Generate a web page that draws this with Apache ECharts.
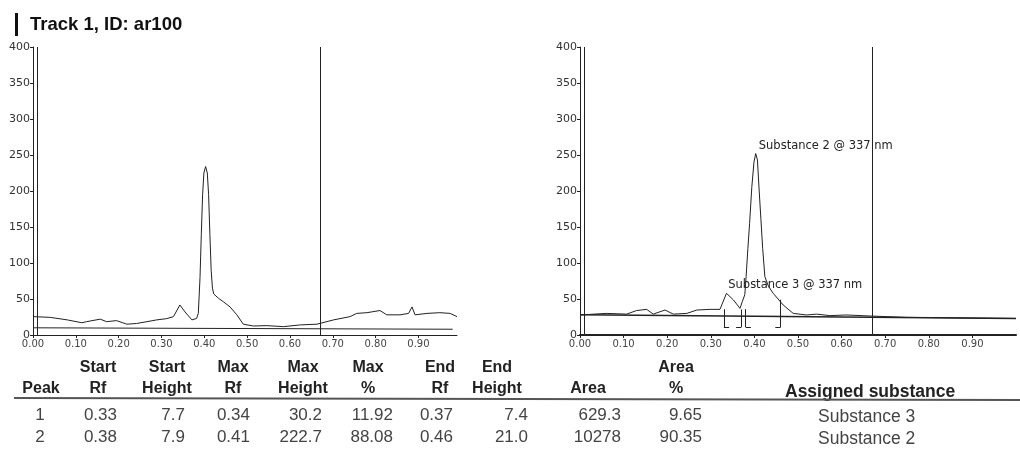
<!DOCTYPE html>
<html>
<head>
<meta charset="utf-8">
<script src="https://cdn.jsdelivr.net/npm/echarts@6/dist/echarts.min.js"></script>
<style>
  html, body { margin: 0; padding: 0; background: #fff; }
  #chart { width: 1020px; height: 450px; }
</style>
</head>
<body>
<div id="chart"></div>
<script>
// densitogram, raw scan (left) -- [Rf, AU]
const rawTrace = [
  [0, 25.5], [0.04, 24.5], [0.08, 21], [0.114, 17], [0.125, 18.5], [0.157, 22], [0.172, 18.5],
  [0.195, 20], [0.219, 15], [0.242, 16], [0.266, 18.5], [0.289, 21], [0.312, 22.7], [0.328, 25.5],
  [0.343, 41.7], [0.355, 32], [0.371, 21], [0.382, 23], [0.386, 30], [0.39, 80], [0.393, 140],
  [0.396, 195], [0.399, 225], [0.403, 234], [0.407, 225], [0.41, 195], [0.413, 140], [0.416, 90],
  [0.419, 65], [0.422, 57], [0.433, 51], [0.445, 46], [0.46, 39], [0.476, 28], [0.491, 15],
  [0.515, 12.5], [0.546, 13], [0.585, 11.6], [0.624, 14], [0.663, 15], [0.702, 21], [0.74, 25.5],
  [0.756, 30], [0.78, 31], [0.81, 34], [0.826, 28], [0.857, 28], [0.877, 30], [0.885, 39],
  [0.892, 28], [0.92, 30], [0.95, 31], [0.974, 30], [0.99, 25.5]
];
const rawBase = [[0, 10], [0.98, 8]];

// densitogram with integrated peaks (right)
const peakTrace = [
  [0, 27.8], [0.06, 30], [0.107, 29], [0.13, 34], [0.153, 35.6], [0.168, 29], [0.195, 34.7],
  [0.214, 29], [0.245, 30], [0.268, 34.7], [0.298, 35.6], [0.321, 35.6], [0.336, 57.9],
  [0.352, 48.6], [0.367, 37], [0.372, 46], [0.378, 56], [0.381, 81], [0.385, 120], [0.389, 155],
  [0.394, 205], [0.399, 240], [0.403, 252], [0.407, 243], [0.411, 200], [0.415, 160], [0.419, 120],
  [0.424, 81], [0.432, 68], [0.443, 58], [0.466, 41.7], [0.489, 30], [0.52, 27.8], [0.543, 29],
  [0.573, 26.9], [0.61, 27.8], [0.665, 26.4], [0.75, 24.5], [1, 23]
];
const peakBase = [[0, 28], [1, 23]];
const baseLevel = 28;
const bracketLow = 11;

const frontRf = [0.665, 0.667];
const startLine = 0.01;

// peak table
const peakNo = ['1', '2'];
const startRf = [0.33, 0.38];
const startHeight = [7.7, 7.9];
const maxRf = [0.34, 0.41];
const maxHeight = [30.2, 222.7];
const maxPct = [11.92, 88.08];
const endRf = [0.37, 0.46];
const endHeight = [7.4, 21.0];
const area = [629.3, 10278];
const areaPct = [9.65, 90.35];
const substance = ['Substance 3', 'Substance 2'];
const peakNames = ['Substance 3 @ 337 nm', 'Substance 2 @ 337 nm'];

const headTop = ['', 'Start', 'Start', 'Max', 'Max', 'Max', 'End', 'End', '', 'Area'];
const headBottom = ['Peak', 'Rf', 'Height', 'Rf', 'Height', '%', 'Rf', 'Height', 'Area', '%'];

const chart = echarts.init(document.getElementById('chart'));

const axisFont = 'DejaVu Sans';
const tableFont = 'Liberation Sans';

function xAxisOf(idx, max, thick) {
  return {
    type: 'value', gridIndex: idx, min: 0, max: max, interval: 0.1,
    axisLine: { lineStyle: { color: '#222', width: thick } },
    axisTick: { length: 3, lineStyle: { color: '#222' } },
    splitLine: { show: false },
    axisLabel: {
      color: '#444', fontFamily: axisFont, fontSize: 10, margin: 4, showMaxLabel: false,
      formatter: v => v.toFixed(2)
    }
  };
}
function yAxisOf(idx) {
  return {
    type: 'value', gridIndex: idx, min: 0, max: 400, interval: 50,
    axisLine: { show: true, lineStyle: { color: '#222' } },
    axisTick: { show: true, length: 3, lineStyle: { color: '#222' } },
    splitLine: { show: false },
    axisLabel: { color: '#333', fontFamily: axisFont, fontSize: 11, margin: 3 }
  };
}
function verticals(idx) {
  return {
    silent: true, symbol: 'none', label: { show: false },
    lineStyle: { color: '#222', type: 'solid', width: 1 },
    data: [{ xAxis: startLine }, { xAxis: frontRf[idx] }]
  };
}

// integration brackets from the table
const brackets = [];
startRf.forEach((r, i) => {
  const top = baseLevel + startHeight[i];
  brackets.push([{ coord: [r, bracketLow] }, { coord: [r, top] }]);
  brackets.push([{ coord: [r, bracketLow] }, { coord: [r + 0.012, bracketLow] }]);
});
endRf.forEach((r, i) => {
  const top = baseLevel + endHeight[i];
  brackets.push([{ coord: [r, bracketLow] }, { coord: [r, top] }]);
  brackets.push([{ coord: [r - 0.012, bracketLow] }, { coord: [r, bracketLow] }]);
});

// table as text
const tableEls = [];
const colCenter = [41, 98, 167, 233, 303, 368, 440, 497, 588, 676];
const colRight = [46, 117, 185, 250, 322, 393, 453, 528, 621, 702];
const rowY = [415, 437];
const headStyle = { fontFamily: tableFont, fontWeight: 'bold', fontSize: 16, fill: '#222', align: 'center', verticalAlign: 'middle' };
headTop.forEach((t, c) => {
  if (t) tableEls.push({ type: 'text', x: colCenter[c], y: 368, style: Object.assign({ text: t }, headStyle) });
});
headBottom.forEach((t, c) => {
  tableEls.push({ type: 'text', x: colCenter[c], y: 389, style: Object.assign({ text: t }, headStyle) });
});
tableEls.push({ type: 'text', x: 785, y: 392, style: Object.assign({ text: 'Assigned substance' }, headStyle, { align: 'left', fontSize: 17.5 }) });
tableEls.push({ type: 'line', shape: { x1: 14, y1: 398, x2: 1020, y2: 400 }, style: { stroke: '#555', lineWidth: 2 } });

peakNo.forEach((p, i) => {
  const cells = [
    p, startRf[i].toFixed(2), startHeight[i].toFixed(1), maxRf[i].toFixed(2),
    maxHeight[i].toFixed(1), maxPct[i].toFixed(2), endRf[i].toFixed(2), endHeight[i].toFixed(1),
    area[i] >= 10000 ? String(area[i]) : area[i].toFixed(1), areaPct[i].toFixed(2)
  ];
  cells.forEach((t, c) => {
    tableEls.push({
      type: 'text', x: c === 0 ? 40 : colRight[c], y: rowY[i],
      style: { text: t, fontFamily: tableFont, fontSize: 17, fill: '#444', align: c === 0 ? 'center' : 'right', verticalAlign: 'middle' }
    });
  });
  tableEls.push({
    type: 'text', x: 818, y: rowY[i] + 2,
    style: { text: substance[i], fontFamily: tableFont, fontSize: 17.5, fill: '#444', align: 'left', verticalAlign: 'middle' }
  });
});

const option = {
  animation: false,
  backgroundColor: '#fff',
  grid: [
    { left: 33, top: 47, width: 424, height: 288 },
    { left: 580, top: 47, width: 436, height: 288 }
  ],
  xAxis: [xAxisOf(0, 0.99, 1), xAxisOf(1, 1, 2)],
  yAxis: [yAxisOf(0), yAxisOf(1)],
  graphic: [
    { type: 'rect', shape: { x: 15, y: 13, width: 3, height: 23 }, style: { fill: '#111' } },
    { type: 'text', x: 30, y: 25, style: { text: 'Track 1, ID: ar100', fontFamily: tableFont, fontWeight: 'bold', fontSize: 18.5, fill: '#111', verticalAlign: 'middle' } }
  ].concat(tableEls),
  series: [
    {
      type: 'line', xAxisIndex: 0, yAxisIndex: 0, data: rawTrace, symbol: 'none',
      lineStyle: { color: '#222', width: 1 }, markLine: verticals(0)
    },
    {
      type: 'line', xAxisIndex: 0, yAxisIndex: 0, data: rawBase, symbol: 'none',
      lineStyle: { color: '#222', width: 1 }
    },
    {
      type: 'line', xAxisIndex: 1, yAxisIndex: 1, data: peakBase, symbol: 'none',
      lineStyle: { color: '#222', width: 1.5 }
    },
    {
      type: 'line', xAxisIndex: 1, yAxisIndex: 1, data: peakTrace, symbol: 'none',
      lineStyle: { color: '#222', width: 1 }, markLine: verticals(1),
      markPoint: {
        symbol: 'circle', symbolSize: 0, silent: true,
        label: {
          show: true, position: [0, -14], color: '#222', fontFamily: axisFont, fontSize: 11.5,
          formatter: p => p.name
        },
        data: peakNames.map((n, i) => ({ name: n, coord: [maxRf[i], maxHeight[i] + baseLevel] }))
      }
    },
    {
      type: 'line', xAxisIndex: 1, yAxisIndex: 1, data: [], symbol: 'none',
      markLine: {
        silent: true, symbol: 'none', label: { show: false },
        lineStyle: { color: '#222', type: 'solid', width: 1 },
        data: brackets
      }
    }
  ]
};

chart.setOption(option);
</script>
</body>
</html>
